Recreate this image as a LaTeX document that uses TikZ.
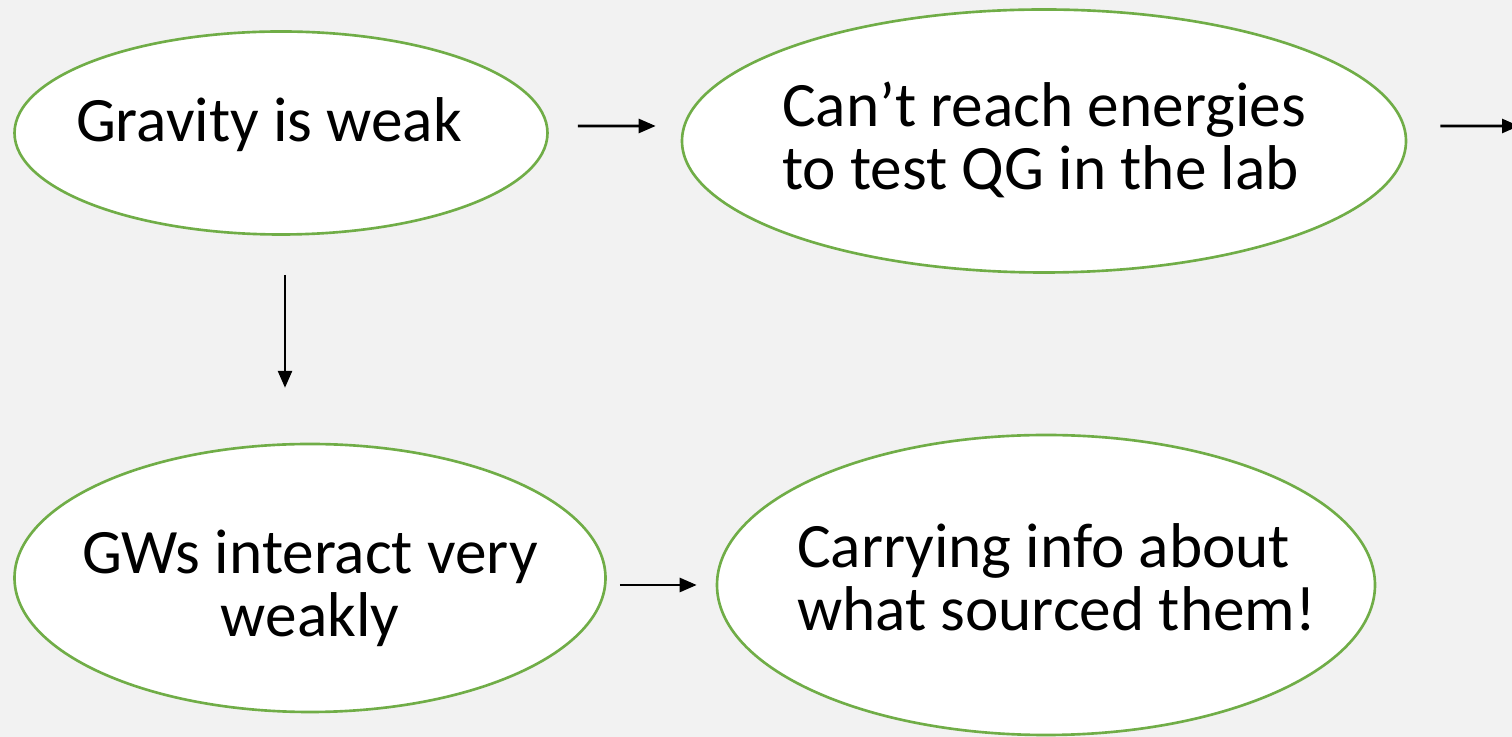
\documentclass[tikz,border=0pt]{standalone}
\usepackage{fontspec}
\setmainfont{Carlito}
\usetikzlibrary{shapes.geometric,arrows.meta}
\definecolor{bgrey}{RGB}{242,242,242}
\definecolor{leafgreen}{RGB}{112,173,71}
% text block lowered by #1, with no height of its own
\newcommand{\bubbletext}[3]{\raisebox{#1}[0pt][0pt]{\begin{tabular}{@{}#2@{}}#3\end{tabular}}}

\begin{document}
\begin{tikzpicture}[
        bubble/.style = {ellipse, draw=leafgreen, fill=white, line width=0.75pt,
                         inner xsep=-1.2cm, inner ysep=-0.4cm,
                         font=\fontsize{18}{17.9}\selectfont},
        link/.style = {-{Triangle[length=0.17cm,width=0.14cm]}, draw=black, line width=0.75pt}]
    \fill[bgrey] (0,0) rectangle (15.12,-7.37);
    \useasboundingbox (0,0) rectangle (15.12,-7.37);

    \node[bubble, minimum width=5.33cm, minimum height=2.03cm] (weak) at (2.81,-1.33)
        {\raisebox{-0.09cm}[0pt][0pt]{Gravity is weak}\kern0.24cm};
    \node[bubble, minimum width=7.24cm, minimum height=2.63cm] (lab) at (10.44,-1.41)
        {\bubbletext{-0.19cm}{l}{Can’t reach energies\\to test QG in the lab}};
    \node[bubble, minimum width=5.91cm, minimum height=2.68cm] (gws) at (3.10,-5.78)
        {\bubbletext{-0.30cm}{c}{GWs interact very\\weakly}};
    \node[bubble, minimum width=6.58cm, minimum height=3.00cm] (info) at (10.46,-5.85)
        {\kern0.21cm\bubbletext{-0.17cm}{l}{Carrying info about\\what sourced them!}};

    \coordinate (next) at (15.19,-1.26);

    \draw[link] ([xshift=0.29cm,yshift=0.07cm]weak.east) -- ([xshift=-0.25cm,yshift=0.15cm]lab.west);
    \draw[link] (weak.south) ++(0.04,-0.39) -- ++(0,-1.13);
    \draw[link] ([xshift=0.13cm,yshift=-0.07cm]gws.east) -- ([xshift=-0.19cm]info.west);
    \draw[link] ([xshift=0.33cm,yshift=0.15cm]lab.east) -- (next);
\end{tikzpicture}
\end{document}
